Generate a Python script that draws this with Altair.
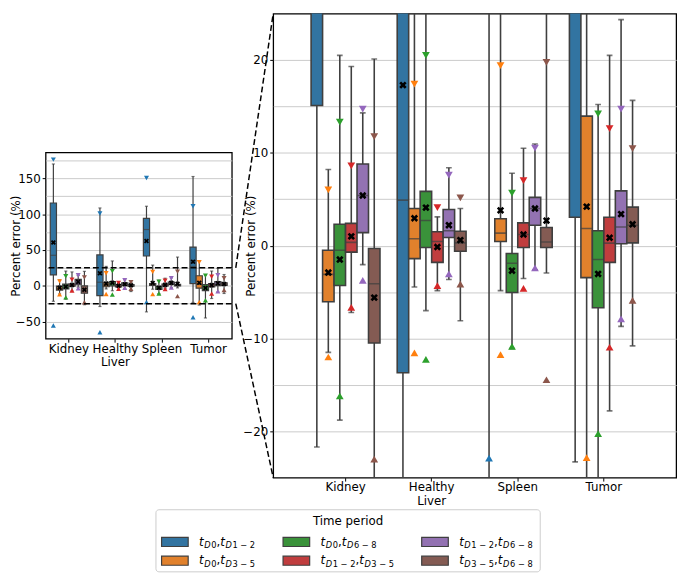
import altair as alt
import pandas as pd

# ---------------- data ----------------
organs = ["Kidney", "Healthy Liver", "Spleen", "Tumor"]
periods = ["D0,D1-2", "D0,D3-5", "D0,D6-8", "D1-2,D3-5", "D1-2,D6-8", "D3-5,D6-8"]

q1_vals = {
    "Kidney": [15.1, -6.05, -4.3, -0.7, 1.4, -10.5],
    "Healthy Liver": [-13.7, -1.4, -0.2, -1.8, 0.87, -0.6],
    "Spleen": [41.5, 0.45, -5.05, -0.2, 2.2, -0.2],
    "Tumor": [3.05, -3.45, -6.7, -1.8, 0.2, 0.3],
}
median_vals = {
    "Kidney": [42.5, -3.1, -0.5, 0.35, 5.4, -4.1],
    "Healthy Liver": [4.9, 0.75, 2.7, 0.45, 1.6, 0.3],
    "Spleen": [78.5, 1.35, -1.9, 1.2, 4.0, 0.4],
    "Tumor": [27.0, 1.85, -1.5, 0.27, 2.0, 2.2],
}
q3_vals = {
    "Kidney": [115.5, -0.5, 2.3, 2.4, 8.8, -0.3],
    "Healthy Liver": [43.0, 4.0, 5.85, 1.5, 3.9, 1.55],
    "Spleen": [94.0, 2.9, -0.85, 2.45, 5.2, 1.95],
    "Tumor": [54.0, 13.95, 1.6, 3.05, 5.9, 4.15],
}
whisker_low = {
    "Kidney": [-21.7, -11.5, -18.8, -7.2, -2.05, -26.5],
    "Healthy Liver": [-29.0, -4.45, -7.0, -4.85, -3.65, -8.1],
    "Spleen": [-36.5, -4.85, -11.1, -3.55, -2.6, -2.95],
    "Tumor": [-23.3, -27.0, -45.0, -17.8, -8.7, -10.8],
}
whisker_high = {
    "Kidney": [170.0, 8.2, 20.5, 19.3, 14.3, 20.1],
    "Healthy Liver": [108.6, 27.0, 34.6, 3.1, 8.4, 4.0],
    "Spleen": [111.0, 28.8, 7.8, 10.5, 10.95, 40.0],
    "Tumor": [152.5, 34.7, 15.2, 20.5, 24.35, 15.65],
}
mean_vals = {
    "Kidney": [60.3, -2.9, -1.5, 1.0, 5.4, -5.6],
    "Healthy Liver": [17.3, 2.95, 4.1, -0.15, 2.2, 0.6],
    "Spleen": [62.5, 3.8, -2.7, 1.2, 4.0, 2.7],
    "Tumor": [33.5, 4.2, -3.05, 0.85, 3.4, 2.3],
}
max_marker = {
    "Kidney": [176.0, 6.0, 13.3, 8.6, 14.7, 11.75],
    "Healthy Liver": [100.8, 17.4, 20.5, 4.1, 7.6, 5.15],
    "Spleen": [150.5, 19.4, 5.65, 7.0, 10.5, 19.75],
    "Tumor": [111.0, 33.0, 14.2, 12.6, 14.7, 10.45],
}
min_marker = {
    "Kidney": [-55.5, -12.0, -16.2, -6.65, -3.75, -23.0],
    "Healthy Liver": [-65.0, -11.55, -12.25, -4.3, -3.05, -4.15],
    "Spleen": [-22.9, -11.75, -10.85, -4.6, -2.4, -14.45],
    "Tumor": [-44.0, -22.85, -20.25, -10.95, -7.9, -5.9],
}

left_domain = [-74, 186]
right_domain = [-25, 25]
zoom_limits = [-25, 25]
left_grid = list(range(-50, 176, 25))
right_grid = list(range(-20, 21, 5))

# ---------------- styles ----------------
BOX_COLORS = ["#3274a1", "#e1812c", "#3a923a", "#c03d3e", "#9372b2", "#845b53"]
MARK_COLORS = ["#1f77b4", "#ff7f0e", "#2ca02c", "#d62728", "#9467bd", "#8c564b"]
LINE = "#3f3f3f"
FONT = "DejaVu Sans"
FS = 12
XPATH = "M-1,-0.5L-0.5,-1L0,-0.5L0.5,-1L1,-0.5L0.5,0L1,0.5L0.5,1L0,0.5L-0.5,1L-1,0.5L-0.5,0Z"

W_L, H_L = 189, 189
W_R, H_R = 409, 471
GAP = 38

rows = []
for o in organs:
    for i, p in enumerate(periods):
        rows.append({
            "organ": o, "period": p,
            "q1": q1_vals[o][i], "med": median_vals[o][i], "q3": q3_vals[o][i],
            "wlo": whisker_low[o][i], "whi": whisker_high[o][i],
            "mean": mean_vals[o][i], "hi": max_marker[o][i], "lo": min_marker[o][i],
        })
df = pd.DataFrame(rows)
one = pd.DataFrame({"k": [0]})


def panel(W, H, domain, grid, label_every, pad_outer, tri_size, mean_size, title_x, clip, sw):
    step = W / (len(organs) - 0.2 + 2 * pad_outer)
    box_w = step * 0.8 / len(periods)
    x = alt.X(
        "organ:N", sort=organs,
        scale=alt.Scale(domain=organs, paddingInner=0.2, paddingOuter=pad_outer),
        axis=alt.Axis(title=None, labelAngle=0, labelLineHeight=14, labelPadding=1,
                      labelExpr="datum.label == 'Healthy Liver' ? ['Healthy', 'Liver'] : datum.label"),
    )
    xo = alt.XOffset("period:N", sort=periods,
                     scale=alt.Scale(domain=periods, paddingInner=0, paddingOuter=0))
    ysc = alt.Scale(domain=domain, nice=False, zero=False)
    yax = alt.Axis(
        title="Percent error (%)", values=grid,
        labelExpr=f"datum.value % {label_every} === 0 ? datum.label : ''",
        tickOpacity={"condition": {"test": f"datum.value % {label_every} === 0", "value": 1}, "value": 0},
        titleX=title_x, titleBaseline="top", titleAngle=-90,
    )

    def Y(f):
        return alt.Y(f, scale=ysc, axis=yax)

    base = alt.Chart(df).encode(x=x, xOffset=xo)
    whisk = base.mark_rule(color=LINE, strokeWidth=sw, clip=clip).encode(y=Y("wlo:Q"), y2="whi:Q")
    cap_lo = base.mark_tick(color=LINE, size=box_w * 0.5, thickness=sw, clip=clip).encode(y=Y("wlo:Q"))
    cap_hi = base.mark_tick(color=LINE, size=box_w * 0.5, thickness=sw, clip=clip).encode(y=Y("whi:Q"))
    box = base.mark_bar(stroke=LINE, strokeWidth=sw, clip=clip).encode(
        y=Y("q1:Q"), y2="q3:Q",
        fill=alt.Fill("period:N", scale=alt.Scale(domain=periods, range=BOX_COLORS), legend=None),
    )
    med = base.mark_tick(color=LINE, size=box_w, thickness=sw, clip=clip).encode(y=Y("med:Q"))
    mcol = alt.Color("period:N", scale=alt.Scale(domain=periods, range=MARK_COLORS), legend=None)
    tri_hi = base.mark_point(shape="triangle-down", filled=True, opacity=1, size=tri_size, clip=clip).encode(
        y=Y("hi:Q"), color=mcol)
    tri_lo = base.mark_point(shape="triangle-up", filled=True, opacity=1, size=tri_size, clip=clip).encode(
        y=Y("lo:Q"), color=mcol)
    mean = base.mark_point(shape=XPATH, filled=True, opacity=1, color="black", size=mean_size,
                           clip=clip).encode(y=Y("mean:Q"))
    layers = [whisk, cap_lo, cap_hi, box, med, tri_hi, tri_lo, mean]
    return layers, ysc, yax


left_layers, lsc, lax = panel(W_L, H_L, left_domain, left_grid, 50, 0.1, 26, 26, -36, False, 1.2)
dashed = alt.Chart(pd.DataFrame({"v": zoom_limits})).mark_rule(
    color="black", strokeDash=[6, 3], strokeWidth=1.5).encode(y=alt.Y("v:Q", scale=lsc, axis=lax))
left = alt.layer(*left_layers, dashed).properties(width=W_L, height=H_L)

right_layers, _, _ = panel(W_R, H_R, right_domain, right_grid, 10, 0.44, 62, 56, -28, True, 1.6)
off = (H_R - H_L) / 2
span = left_domain[1] - left_domain[0]
y_top = off + (left_domain[1] - zoom_limits[1]) / span * H_L
y_bot = off + (left_domain[1] - zoom_limits[0]) / span * H_L
conn_top = alt.Chart(one).mark_rule(color="black", strokeDash=[6, 3], strokeWidth=1.5).encode(
    x=alt.value(-GAP), x2=alt.value(0), y=alt.value(y_top), y2=alt.value(0))
conn_bot = alt.Chart(one).mark_rule(color="black", strokeDash=[6, 3], strokeWidth=1.5).encode(
    x=alt.value(-GAP), x2=alt.value(0), y=alt.value(y_bot), y2=alt.value(H_R))
right = alt.layer(*right_layers, conn_top, conn_bot).properties(width=W_R, height=H_R)

# ---------------- custom legend (subscripted labels) ----------------
LEG_W, LEG_H = 390, 63
col_x = [5.7, 129.0, 269.7]
row_y = [32.7, 51.7]
SUB = 8.4
W_EM = {"t": 0.392, "D": 0.770, ",": 0.318, " ": 0.318, "\u2212": 0.838}


def text_w(s, size):
    return sum(W_EM.get(c, 0.636) for c in s) * size


sw_rows, seg_rows = [], []
for i, p in enumerate(periods):
    c, r = i // 2, i % 2
    sx, cy = col_x[c], row_y[r]
    sw_rows.append({"period": p, "sx": sx, "sx2": sx + 27, "sy": cy - 4.6, "sy2": cy + 4.6})
    a, b = p.split(",")
    segs = []
    for k, part in enumerate([a, b]):
        if k == 1:
            segs.append((",", FS, "normal", 0))
        segs.append(("t", FS, "italic", 0))
        segs.append(("D", SUB, "italic", 2.6))
        segs.append((part[1:].replace("-", " \u2212 "), SUB, "normal", 2.6))
    xx = sx + 38
    for t, fs, style, dy in segs:
        seg_rows.append({"x": xx, "y": cy + 3.8 + dy, "text": t, "fs": fs, "style": style})
        xx += text_w(t, fs) + (0.6 if style == "italic" else 0)
sw_df = pd.DataFrame(sw_rows)
seg_df = pd.DataFrame(seg_rows)

leg_box = alt.Chart(one).mark_rect(fill="white", stroke="#cccccc", strokeWidth=1, cornerRadius=3).encode(
    x=alt.value(0), x2=alt.value(LEG_W), y=alt.value(0), y2=alt.value(LEG_H))
leg_title = alt.Chart(one).mark_text(text="Time period", font=FONT, fontSize=FS, align="center",
                                     baseline="middle", color="black").encode(
    x=alt.value(LEG_W / 2), y=alt.value(11.5))
swatches = alt.Chart(sw_df).mark_rect(stroke=LINE, strokeWidth=1.2).encode(
    x=alt.X("sx:Q", scale=None, axis=None), x2="sx2:Q",
    y=alt.Y("sy:Q", scale=None, axis=None), y2="sy2:Q",
    fill=alt.Fill("period:N", scale=alt.Scale(domain=periods, range=BOX_COLORS), legend=None),
)


def seg_layer(style):
    return alt.Chart(seg_df).transform_filter(f"datum.style == '{style}'").mark_text(
        align="left", baseline="alphabetic", font=FONT, fontStyle=style, color="black").encode(
        x=alt.X("x:Q", scale=None, axis=None), y=alt.Y("y:Q", scale=None, axis=None),
        text="text:N", size=alt.Size("fs:Q", scale=None, legend=None))


legend = alt.layer(leg_box, leg_title, swatches, seg_layer("italic"), seg_layer("normal")).properties(
    width=LEG_W + 26, height=LEG_H, view=alt.ViewBackground(stroke="transparent"))

top = alt.hconcat(left, right, spacing=0, center=True).resolve_scale(
    x="independent", xOffset="independent", y="independent")
chart = alt.vconcat(top, legend, spacing=0, center=True).properties(padding=0).configure_view(
    stroke="black", strokeWidth=1.3
).configure_axis(
    labelFont=FONT, labelFontSize=FS, labelColor="black",
    titleFont=FONT, titleFontSize=FS, titleFontWeight="normal", titleColor="black",
    tickColor="black", tickSize=3.5, tickWidth=1, domain=False,
    gridColor="#c4c4c4", gridWidth=0.9, labelPadding=2,
)

chart.save("out.html", embed_options={"renderer": "svg", "actions": False})
